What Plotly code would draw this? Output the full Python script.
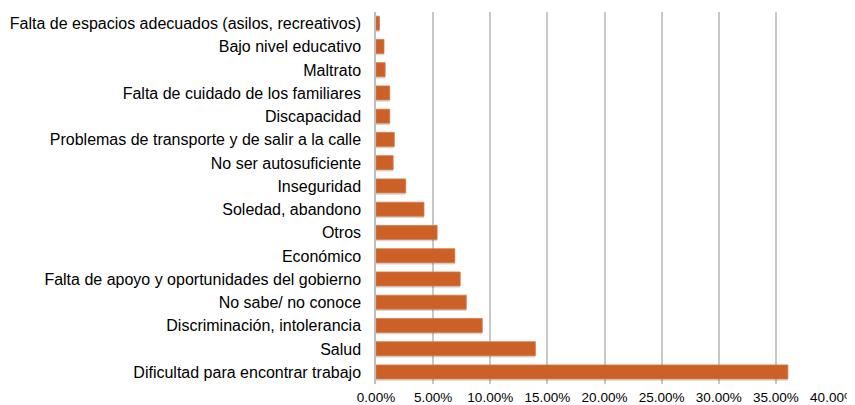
import plotly.graph_objects as go

# Categories listed top to bottom as they appear in the chart
categories = [
    "Falta de espacios adecuados (asilos, recreativos)",
    "Bajo nivel educativo",
    "Maltrato",
    "Falta de cuidado de los familiares",
    "Discapacidad",
    "Problemas de transporte y de salir a la calle",
    "No ser autosuficiente",
    "Inseguridad",
    "Soledad, abandono",
    "Otros",
    "Económico",
    "Falta de apoyo y oportunidades del gobierno",
    "No sabe/ no conoce",
    "Discriminación, intolerancia",
    "Salud",
    "Dificultad para encontrar trabajo",
]
values = [0.003, 0.007, 0.008, 0.012, 0.012, 0.016, 0.015, 0.026,
          0.042, 0.0535, 0.069, 0.0737, 0.079, 0.093, 0.1395, 0.3605]

tick_vals = [0, 0.05, 0.10, 0.15, 0.20, 0.25, 0.30, 0.35, 0.40]

fig = go.Figure()

# soft drop shadow behind the bars
fig.add_trace(go.Bar(
    x=values, y=categories, orientation="h",
    marker=dict(color="rgba(0,0,0,0.16)", line=dict(width=0)),
    width=0.6, offset=-0.24, hoverinfo="skip", showlegend=False,
))
fig.add_trace(go.Bar(
    x=values, y=categories, orientation="h",
    marker=dict(color="#CC6128", line=dict(color="#D47A45", width=0.8)),
    width=0.6, offset=-0.32, showlegend=False,
))

# page body adds an 8px margin, so the figure is 8px smaller than the window
fig.update_layout(
    width=847, height=397,
    margin=dict(l=368, r=22, t=4, b=21),
    paper_bgcolor="white", plot_bgcolor="white",
    font=dict(family="Liberation Sans, Arial, sans-serif", color="#000000"),
    barmode="overlay",
)
fig.update_xaxes(
    range=[0, 0.40], tickvals=tick_vals, tickformat=".2%",
    showgrid=True, gridcolor="#C8C8C8", gridwidth=1.5,
    zeroline=False, showline=False, automargin=False,
    tickfont=dict(size=13.5), ticks="", ticklabeloverflow="allow",
    ticklabelstandoff=3,
)
fig.update_yaxes(
    autorange="reversed", tickfont=dict(size=16), automargin=False,
    showline=True, linecolor="#BEBEBE", linewidth=1.5,
    ticks="", ticklabelstandoff=10, showgrid=False,
)

fig.write_html("out.html")
